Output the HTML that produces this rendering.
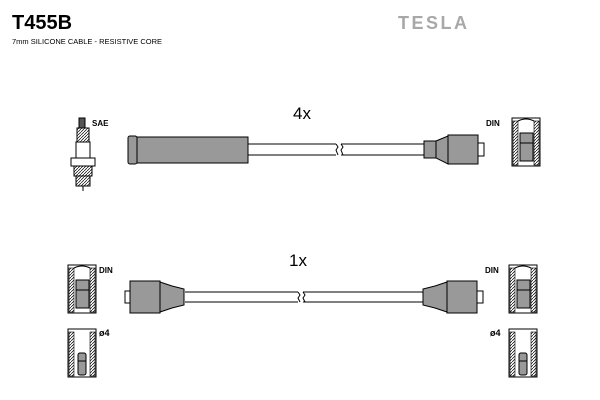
<!DOCTYPE html>
<html><head><style>body{margin:0;background:#fff}svg{display:block}</style></head><body>
<svg width="600" height="400" viewBox="0 0 600 400" xmlns="http://www.w3.org/2000/svg" font-family="Liberation Sans, sans-serif">
<defs>
<pattern id="h" width="3" height="3" patternUnits="userSpaceOnUse"><path d="M0,3L3,0" stroke="#000" stroke-width="0.7"/></pattern>
<g id="din">
<rect x="0" y="0" width="28" height="48" fill="#fff" stroke="#000"/>
<rect x="1" y="3" width="5" height="44" fill="url(#h)" stroke="#000" stroke-width="0.6"/>
<rect x="22" y="3" width="5" height="44" fill="url(#h)" stroke="#000" stroke-width="0.6"/>
<path d="M6,3 Q14,-1 22,3" fill="none" stroke="#000"/>
<rect x="8" y="15" width="13" height="28" fill="#999" stroke="#000"/>
<line x1="8" y1="25" x2="21" y2="25" stroke="#000"/>
</g>
<g id="d4">
<rect x="0" y="0" width="28" height="48" fill="#fff" stroke="#000"/>
<rect x="1" y="3" width="5" height="44" fill="url(#h)" stroke="#000" stroke-width="0.6"/>
<rect x="22" y="3" width="5" height="44" fill="url(#h)" stroke="#000" stroke-width="0.6"/>
<rect x="10" y="24" width="8" height="22" rx="2" fill="#999" stroke="#000"/>
<line x1="10" y1="32" x2="18" y2="32" stroke="#000"/>
</g>
</defs>
<text x="12" y="29" font-size="20" font-weight="bold">T455B</text>
<text x="12" y="44" font-size="7.5">7mm SILICONE CABLE - RESISTIVE CORE</text>
<text x="398" y="29" font-size="18" font-weight="bold" fill="#a8a8a8" letter-spacing="2.5">TESLA</text>

<!-- spark plug -->
<g stroke="#000" fill="#fff">
<rect x="79" y="118" width="6" height="10" fill="#555"/>
<rect x="77" y="128" width="12" height="14" fill="url(#h)"/>
<rect x="76" y="142" width="14" height="16"/>
<rect x="71" y="158" width="24" height="8"/>
<rect x="74" y="166" width="18" height="10" fill="url(#h)"/>
<rect x="76" y="176" width="14" height="10" fill="url(#h)"/>
<line x1="83" y1="186" x2="83" y2="191"/>
</g>
<text x="92" y="126" font-size="8" font-weight="bold">SAE</text>

<!-- top cable -->
<text x="293" y="119" font-size="17">4x</text>
<g stroke="#000">
<line x1="248" y1="144" x2="336" y2="144"/><line x1="248" y1="155" x2="336" y2="155"/>
<line x1="341" y1="144" x2="425" y2="144"/><line x1="341" y1="155" x2="425" y2="155"/>
<path d="M336,144 l2,3 -2,3 2,5 M341,144 l2,3 -2,3 2,5" fill="none"/>
<rect x="137" y="137" width="111" height="26" fill="#999"/>
<rect x="128" y="136" width="9" height="28" rx="2" fill="#999"/>
<rect x="424" y="141" width="12" height="17" fill="#999"/>
<path d="M436,141 L448,136 L448,164 L436,158Z" fill="#999"/>
<rect x="448" y="135" width="30" height="29" fill="#999"/>
<rect x="478" y="143" width="6" height="13" fill="#fff"/>
</g>
<text x="486" y="126" font-size="8" font-weight="bold">DIN</text>
<use href="#din" x="512" y="118"/>

<!-- bottom cable -->
<text x="289" y="266" font-size="17">1x</text>
<g stroke="#000">
<line x1="185" y1="292" x2="298" y2="292"/><line x1="185" y1="302" x2="298" y2="302"/>
<line x1="303" y1="292" x2="424" y2="292"/><line x1="303" y1="302" x2="424" y2="302"/>
<path d="M298,292 l2,3 -2,3 2,4 M303,292 l2,3 -2,3 2,4" fill="none"/>
<rect x="125" y="291" width="5" height="12" fill="#fff"/>
<rect x="130" y="281" width="30" height="32" fill="#999"/>
<path d="M160,282 L172,286 L184,289 L184,305 L172,308 L160,312Z" fill="#999"/>
<path d="M447,282 L435,286 L423,289 L423,305 L435,308 L447,312Z" fill="#999"/>
<rect x="447" y="281" width="30" height="32" fill="#999"/>
<rect x="477" y="291" width="6" height="12" fill="#fff"/>
</g>
<use href="#din" x="68" y="265"/>
<use href="#d4" x="68" y="329"/>
<text x="99" y="273" font-size="8" font-weight="bold">DIN</text>
<text x="99" y="336" font-size="9" font-weight="bold">ø4</text>
<use href="#din" x="509" y="265"/>
<use href="#d4" x="509" y="329"/>
<text x="485" y="273" font-size="8" font-weight="bold">DIN</text>
<text x="490" y="336" font-size="9" font-weight="bold">ø4</text>
</svg>
</body></html>
